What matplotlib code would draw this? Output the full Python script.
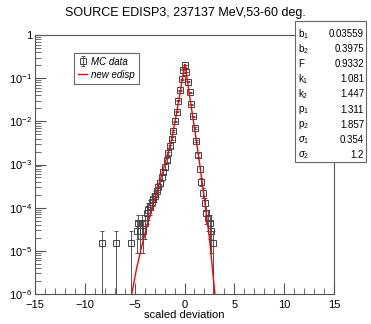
import numpy as np
import matplotlib
matplotlib.use("Agg")
from matplotlib import pyplot as plt
from matplotlib.patches import Rectangle
from matplotlib.ticker import FixedLocator, FuncFormatter, MultipleLocator

plt.rcParams["font.family"] = ["Liberation Sans", "DejaVu Sans"]
plt.rcParams["mathtext.fontset"] = "custom"
plt.rcParams["mathtext.rm"] = "Liberation Sans"
plt.rcParams["mathtext.it"] = "Liberation Sans:italic"

# MC data: bin centres (scaled deviation) and log10 of the normalised counts
mc_x = [-8.31, -6.85, -5.37,
        -4.80, -4.63, -4.47, -4.30, -4.13, -3.97, -3.80, -3.63, -3.47, -3.30,
        -3.13, -2.97, -2.80, -2.63, -2.47, -2.30, -2.13, -1.97, -1.80, -1.63,
        -1.47, -1.30, -1.13, -0.97, -0.80, -0.63, -0.47, -0.30, -0.13, 0.03,
        0.20, 0.37, 0.53, 0.70, 0.87, 1.03, 1.20, 1.37, 1.53, 1.70, 1.87,
        2.03, 2.20, 2.37, 2.53, 2.70, 2.87]
mc_logy = [-4.83, -4.83, -4.83,
           -4.53, -4.36, -4.53, -4.36, -4.53, -4.36, -4.13, -4.05, -3.97, -3.87,
           -3.80, -3.72, -3.62, -3.52, -3.42, -3.30, -3.18, -3.05, -2.90, -2.74,
           -2.58, -2.40, -2.22, -2.00, -1.78, -1.52, -1.28, -1.03, -0.80, -0.70,
           -0.85, -1.08, -1.33, -1.60, -1.88, -2.15, -2.45, -2.78, -3.10, -3.40,
           -3.65, -3.90, -4.13, -4.24, -4.36, -4.53, -4.83]
# weight of a single event
unit = 1.47e-5

# fitted "new edisp" curve
fit_x = [-5.3, -4.8, -4.3, -3.8, -3.3, -2.8, -2.3, -1.8, -1.3, -0.8, -0.4,
         0.0, 0.05, 0.5, 1.0, 1.5, 2.0, 2.5, 3.05]
fit_logy = [-6.0, -5.4, -4.9, -4.45, -4.05, -3.65, -3.25, -2.85, -2.42,
            -1.82, -1.27, -0.72, -0.68, -1.4, -2.15, -2.95, -3.8, -4.7, -6.0]

par_names = ["b$_1$", "b$_2$", "F", "k$_1$", "k$_2$", "p$_1$", "p$_2$",
             r"$\sigma_1$", r"$\sigma_2$"]
par_values = ["0.03559", "0.3975", "0.9332", "1.081", "1.447", "1.311",
              "1.857", "0.354", "1.2"]

W, H = 371, 324
fig = plt.figure(figsize=(W / 100, H / 100), dpi=100)
ax = fig.add_axes([35 / W, 1 - 294 / H, (334 - 35) / W, (294 - 35) / H])

mc_y = 10 ** np.array(mc_logy)
mc_err = np.sqrt(mc_y * unit)
lower = np.minimum(mc_err, mc_y * 0.999999)
eb = ax.errorbar(mc_x, mc_y, yerr=[lower, mc_err], fmt="s", ms=4,
                 mfc="none", mec="#444444", mew=0.7, ecolor="#555555",
                 elinewidth=0.7, capsize=1.5, capthick=0.7, zorder=3)
fit_line, = ax.plot(fit_x, 10 ** np.array(fit_logy), color="red", lw=1.0,
                    zorder=4)

ax.set_yscale("log")
ax.set_xlim(-15, 15)
ax.set_ylim(1e-6, 1)
ax.xaxis.set_major_locator(MultipleLocator(5))
ax.xaxis.set_minor_locator(MultipleLocator(1))
ax.yaxis.set_major_locator(FixedLocator([1e-6, 1e-5, 1e-4, 1e-3, 1e-2, 1e-1, 1]))


def yfmt(v, pos):
    e = int(round(np.log10(v)))
    return "1" if e == 0 else "10$^{%d}$" % e


ax.yaxis.set_major_formatter(FuncFormatter(yfmt))
ax.tick_params(which="both", direction="in", labelsize=8, color="#555555",
               top=False, right=False, pad=2)
ax.tick_params(which="major", length=8)
ax.tick_params(which="minor", length=4)
ax.tick_params(axis="x", pad=4)
for s in ax.spines.values():
    s.set_color("#555555")
    s.set_linewidth(0.8)
ax.set_xlabel("scaled deviation", fontsize=8, labelpad=0)

fig.text(0.5, 1 - 13 / H, "SOURCE EDISP3, 237137 MeV,53-60 deg.",
         ha="center", va="center", fontsize=9)

leg = ax.legend([eb, fit_line], ["MC data", "new edisp"],
                loc="upper left", bbox_to_anchor=(69 / W, 1 - 48 / H),
                bbox_transform=fig.transFigure, fancybox=False,
                edgecolor="#666666", framealpha=1, handlelength=1.0,
                handletextpad=0.4, borderpad=0.4, labelspacing=0.3,
                prop={"style": "italic", "size": 7})
leg.get_frame().set_linewidth(0.8)

# fit parameter box
bx0, bx1, by0, by1 = 295, 366, 21, 162
fig.add_artist(Rectangle((bx0 / W, 1 - by1 / H), (bx1 - bx0) / W,
                         (by1 - by0) / H, transform=fig.transFigure,
                         facecolor="white", edgecolor="#666666", lw=0.8,
                         zorder=10))
for i, (n, v) in enumerate(zip(par_names, par_values)):
    yy = 1 - (34 + i * 15.1) / H
    fig.text(298 / W, yy, n, ha="left", va="center", fontsize=7, zorder=11)
    fig.text(364 / W, yy, v, ha="right", va="center", fontsize=7, zorder=11)

plt.savefig("out.png", dpi=100)
